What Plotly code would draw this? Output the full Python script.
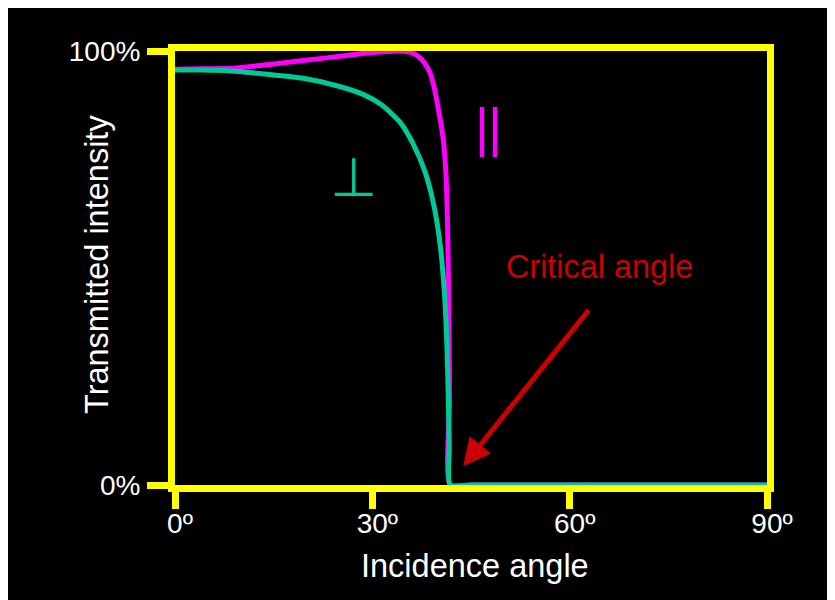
import plotly.graph_objects as go

# ---- data ----
par_angle = [0, 4, 8.4, 14.4, 19.5, 24.6, 28.5, 31.6, 34.0, 36.0, 37.2, 38.0, 38.8, 39.4, 40.0, 40.4, 40.8, 41.1, 41.3, 41.45, 41.55, 41.65, 41.75, 41.85, 45, 60, 75, 90]
par_value = [95.8, 95.9, 96.0, 96.9, 97.8, 98.7, 99.4, 99.8, 100.0, 99.6, 98.5, 97.1, 94.9, 91.6, 87.0, 83.5, 79.5, 74.0, 68.0, 59.0, 48.8, 36.0, 20.0, 0.0, 0.0, 0.0, 0.0, 0.0]

perp_angle = [0, 4, 8.4, 14.4, 19.5, 24.6, 28.6, 31.4, 34.2, 36.2, 38.0, 39.3, 40.3, 40.9, 41.3, 41.55, 41.7, 41.85, 45, 60, 75, 90]
perp_value = [95.6, 95.6, 95.4, 94.6, 93.7, 92.0, 90.0, 87.6, 83.6, 78.6, 72.2, 64.8, 55.5, 45.5, 34.0, 20.0, 9.0, 0.0, 0.0, 0.0, 0.0, 0.0]

x_ticks = [0, 30, 60, 90]
x_ticklabels = ["0º", "30º", "60º", "90º"]
y_ticks = [0, 100]
y_ticklabels = ["0%", "100%"]

# ---- styling ----
W, H = 835, 600
OFF = 8  # page offset of the figure div (browser body margin)
PL, PR, PT, PB = 175, 767, 51, 485  # plot-area edges in page pixels
ML, MT = PL - OFF, PT - OFF
MR, MB = W - (PR - OFF), H - (PB - OFF)
PW, PH = PR - PL, PB - PT
FONT = "Arial, Liberation Sans, sans-serif"
YELLOW = "#FFFF00"
MAGENTA = "#FF00FF"
TEAL = "#00C896"
RED = "#CC0000"


def px_x(p):  # page pixel -> paper fraction
    return (p - PL) / PW


def px_y(p):
    return (PB - p) / PH


fig = go.Figure()
fig.add_trace(go.Scatter(x=par_angle, y=par_value, mode="lines",
                         line=dict(color=MAGENTA, width=5, shape="spline", smoothing=0.6),
                         hoverinfo="skip"))
fig.add_trace(go.Scatter(x=perp_angle, y=perp_value, mode="lines",
                         line=dict(color=TEAL, width=5, shape="spline", smoothing=0.6),
                         hoverinfo="skip"))

# black panel with thin grey edge
fig.add_shape(type="rect", xref="paper", yref="paper",
              x0=px_x(OFF - 1), x1=px_x(W + 20), y0=px_y(H + 20), y1=px_y(OFF - 1),
              fillcolor="black", line=dict(color="#999999", width=1), layer="below")

axis_common = dict(showline=True, linecolor=YELLOW, linewidth=7, mirror=True,
                   ticks="outside", tickwidth=7, tickcolor=YELLOW,
                   showgrid=False, zeroline=False, layer="below traces",
                   tickfont=dict(family=FONT, size=28, color="white"))

fig.update_xaxes(range=[0, 90], tickvals=x_ticks, ticktext=x_ticklabels,
                 ticklen=17, ticklabelstandoff=-10, ticklabelshift=5, **axis_common)
fig.update_yaxes(range=[0, 100], tickvals=y_ticks, ticktext=y_ticklabels,
                 ticklen=21, ticklabelstandoff=1, **axis_common)

# axis titles
fig.add_annotation(xref="paper", yref="paper", x=px_x(475), y=px_y(566),
                   xanchor="center", yanchor="middle",
                   text="Incidence angle", showarrow=False,
                   font=dict(family=FONT, size=32.5, color="white"))
fig.add_annotation(xref="paper", yref="paper", x=px_x(97), y=px_y(265),
                   xanchor="center", yanchor="middle",
                   text="Transmitted intensity", showarrow=False, textangle=-90,
                   font=dict(family=FONT, size=32.5, color="white"))

# curve labels
fig.add_annotation(x=27.2, y=70.8, text="⊥", showarrow=False,
                   font=dict(family="DejaVu Sans", size=54, color=TEAL))
fig.add_annotation(x=46.67, y=82.5, text="|", showarrow=False,
                   font=dict(family=FONT, size=54, color=MAGENTA))
fig.add_annotation(x=48.65, y=82.5, text="|", showarrow=False,
                   font=dict(family=FONT, size=54, color=MAGENTA))

fig.add_annotation(x=64.6, y=50.2, text="Critical angle", showarrow=False,
                   font=dict(family=FONT, size=32.4, color=RED))
fig.add_annotation(x=43.8, y=4.3, text="", showarrow=True, ax=127, ay=-158,
                   arrowcolor=RED, arrowwidth=5, arrowhead=2, arrowsize=1.1)

fig.update_layout(width=W, height=H, margin=dict(l=ML, r=MR, t=MT, b=MB, pad=0),
                  paper_bgcolor="white", plot_bgcolor="black", showlegend=False,
                  font=dict(family=FONT, color="white"))

fig.write_html("out.html")
